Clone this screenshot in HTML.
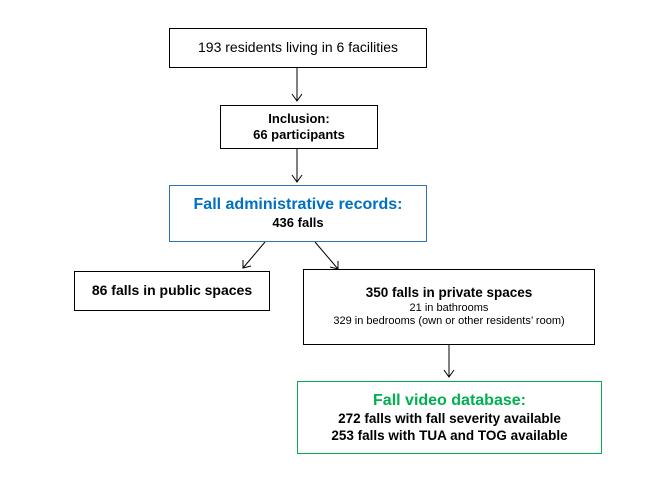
<!DOCTYPE html>
<html><head><meta charset="utf-8"><style>
body{margin:0;background:#fff;width:672px;height:480px;position:relative;font-family:"Liberation Sans",sans-serif;color:#000;overflow:hidden}
.b{position:absolute;box-sizing:border-box;border:1.3px solid #000;background:#fff;text-align:center;display:flex;flex-direction:column;justify-content:center;align-items:center;line-height:1.25}
.bo{font-weight:bold;font-size:13px}
svg{position:absolute;left:0;top:0}
</style></head><body>
<svg width="672" height="480">
<g stroke="#000" stroke-width="1" fill="none">
<line x1="297" y1="67" x2="297" y2="101"/><polyline points="292,94 297,101 302,94"/>
<line x1="297" y1="148" x2="297" y2="182"/><polyline points="292,175 297,182 302,175"/>
<line x1="265" y1="242" x2="243" y2="268"/><polyline points="243,260 243,268 251,266"/>
<line x1="315" y1="242" x2="338" y2="269"/><polyline points="330,267 338,269 338,261"/>
<line x1="449" y1="344" x2="449" y2="377"/><polyline points="444,370 449,377 454,370"/>
</g></svg>
<div class="b" style="left:169px;top:28px;width:258px;height:40px;font-size:14px">193 residents living in 6 facilities</div>
<div class="b bo" style="left:220px;top:105px;width:158px;height:44px">Inclusion:<br>66 participants</div>
<div class="b" style="left:169px;top:185px;width:258px;height:57px;border-color:#2e75b6"><div style="color:#0070c0;font-weight:bold;font-size:16px">Fall administrative records:</div><div class="bo">436 falls</div></div>
<div class="b bo" style="left:74px;top:271px;width:196px;height:40px;font-size:14px">86 falls in public spaces</div>
<div class="b" style="left:303px;top:269px;width:292px;height:76px;font-size:11px"><div class="bo" style="font-size:13.5px">350 falls in private spaces</div><div>21 in bathrooms</div><div>329 in bedrooms (own or other residents’ room)</div></div>
<div class="b" style="left:297px;top:381px;width:305px;height:73px;border-color:#00b050"><div style="color:#00b050;font-weight:bold;font-size:16px">Fall video database:</div><div class="bo" style="font-size:13.5px">272 falls with fall severity available</div><div class="bo" style="font-size:13.5px">253 falls with TUA and TOG available</div></div>
</body></html>
